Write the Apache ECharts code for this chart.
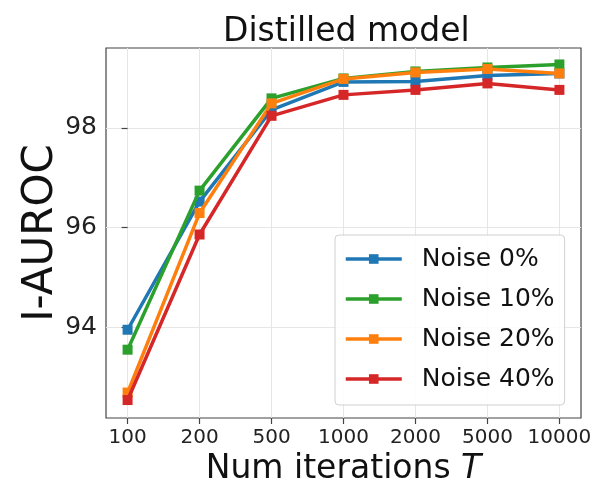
<!DOCTYPE html>
<html>
<head>
<meta charset="utf-8">
<script src="https://cdn.jsdelivr.net/npm/echarts@6/dist/echarts.min.js"></script>
<style>
  html, body { margin: 0; padding: 0; background: #fff; }
  #chart { width: 595px; height: 484px; }
</style>
</head>
<body>
<div id="chart"></div>
<script>
// Iteration counts shown as evenly spaced categories
const iterations = ['100', '200', '500', '1000', '2000', '5000', '10000'];
const yTicks = [94, 96, 98];

// I-AUROC for each label-noise level
const noise0  = [93.95, 96.52, 98.36, 98.92, 98.93, 99.05, 99.09];
const noise10 = [93.55, 96.74, 98.59, 98.99, 99.13, 99.21, 99.27];
const noise20 = [92.69, 96.29, 98.49, 98.98, 99.11, 99.18, 99.09];
const noise40 = [92.54, 95.86, 98.24, 98.66, 98.76, 98.89, 98.76];

const seriesNames = ['Noise 0%', 'Noise 10%', 'Noise 20%', 'Noise 40%'];
const seriesColors = ['#1f77b4', '#2ca02c', '#ff7f0e', '#d62728'];
const seriesData = [noise0, noise10, noise20, noise40];

const FONT = 'DejaVu Sans';
const xIdx = iterations.map((_, i) => i);

const chart = echarts.init(document.getElementById('chart'));
chart.setOption({
  animation: false,
  backgroundColor: '#fff',
  textStyle: { fontFamily: FONT },
  title: {
    text: 'Distilled model',
    left: 218,
    top: 11,
    textStyle: { fontFamily: FONT, fontSize: 33, fontWeight: 'normal', color: '#111' }
  },
  grid: {
    left: 106, right: 14, top: 48, bottom: 66,
    outerBoundsMode: 'none',
    containLabel: false,
    show: true, borderColor: '#444', borderWidth: 1.2
  },
  legend: {
    left: 335, top: 235,
    orient: 'vertical',
    data: seriesNames,
    itemWidth: 56, itemHeight: 12, itemGap: 10,
    padding: [9, 10, 11, 9],
    backgroundColor: 'rgba(255,255,255,0.85)',
    borderColor: '#d0d0d0', borderWidth: 1, borderRadius: 4,
    lineStyle: { width: 3.5 },
    textStyle: { fontFamily: FONT, fontSize: 25, color: '#111', lineHeight: 30, padding: [0, 0, 0, 15] }
  },
  xAxis: {
    type: 'value',
    min: -0.3, max: 6.3,
    name: 'Num iterations {i|T}',
    nameLocation: 'middle', nameGap: 34,
    nameTextStyle: {
      fontFamily: FONT, fontSize: 33, color: '#111',
      rich: { i: { fontFamily: FONT, fontSize: 33, fontStyle: 'italic', color: '#111' } }
    },
    axisLine: { show: false },
    axisTick: { show: true, customValues: xIdx, length: 6, lineStyle: { color: '#444', width: 1.2 } },
    axisLabel: {
      customValues: xIdx,
      fontFamily: FONT, fontSize: 20, color: '#222', margin: 10,
      formatter: v => iterations[Math.round(v)]
    },
    splitLine: { show: true, lineStyle: { color: '#e6e6e6', width: 1 } }
  },
  yAxis: {
    type: 'value',
    min: 92.18, max: 99.6,
    name: 'I-AUROC',
    nameLocation: 'middle', nameGap: 44,
    nameMoveOverlap: false,
    nameTextStyle: { fontFamily: FONT, fontSize: 42, color: '#111' },
    axisLine: { show: false },
    axisTick: { show: true, customValues: yTicks, length: 6, lineStyle: { color: '#444', width: 1.2 } },
    axisLabel: { customValues: yTicks, fontFamily: FONT, fontSize: 25, color: '#222', margin: 9 },
    splitLine: { show: true, lineStyle: { color: '#e6e6e6', width: 1 } }
  },
  series: seriesData.map((vals, s) => ({
    name: seriesNames[s],
    type: 'line',
    data: vals.map((v, i) => [i, v]),
    symbol: 'rect',
    symbolSize: 10,
    color: seriesColors[s],
    lineStyle: { width: 3.5, color: seriesColors[s] },
    itemStyle: { color: seriesColors[s] },
    z: 2 + s
  }))
});
</script>
</body>
</html>
